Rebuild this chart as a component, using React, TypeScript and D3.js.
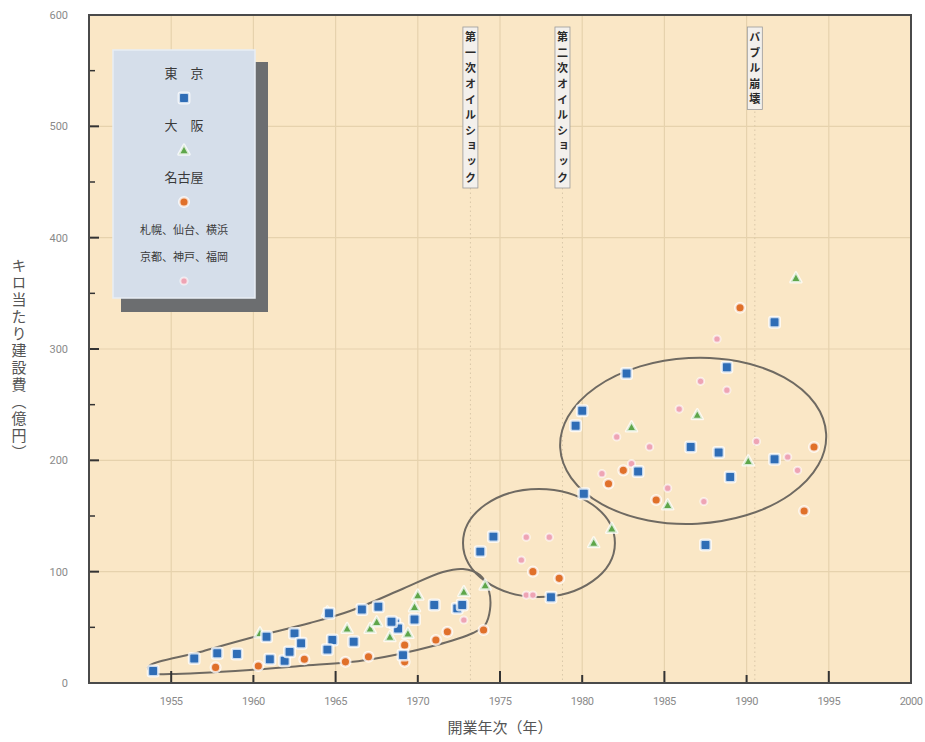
import React from "react";
import * as d3 from "d3";

// ---- data (year, 億円/km) ----
const tokyo: [number, number][] = [
  [1953.9, 10.8], [1956.4, 22], [1957.8, 26.7], [1959.0, 26], [1960.8, 41.6], [1961.0, 21.3],
  [1961.9, 20], [1962.2, 28], [1962.5, 44.6], [1962.9, 35.7], [1964.6, 62.6], [1964.8, 38.6],
  [1964.5, 30], [1966.1, 37], [1966.6, 66], [1967.6, 68.5], [1968.6, 53.6], [1968.8, 49],
  [1968.4, 55], [1969.8, 57], [1969.1, 25], [1971.0, 70], [1972.4, 67], [1972.7, 70],
  [1973.8, 118], [1974.6, 131.5], [1978.1, 77], [1980.1, 170], [1979.6, 231], [1980.0, 244.6],
  [1982.7, 278], [1983.4, 190], [1986.6, 212], [1988.3, 207], [1988.8, 283.6], [1989.0, 185],
  [1987.5, 124], [1991.7, 201], [1991.7, 324],
];
const osaka: [number, number][] = [
  [1960.4, 45], [1964.5, 64], [1965.7, 49], [1967.1, 49], [1967.5, 55], [1968.3, 41.6],
  [1969.4, 44.6], [1969.8, 68.5], [1970.0, 79], [1972.8, 82], [1974.1, 88], [1980.7, 126],
  [1981.8, 139], [1983.0, 230], [1985.2, 160], [1987.0, 241], [1990.1, 199.5], [1993.0, 364],
];
const nagoya: [number, number][] = [
  [1957.7, 14], [1960.3, 15.3], [1963.1, 21.3], [1965.6, 19], [1967.0, 23.6], [1969.2, 34],
  [1969.2, 19], [1971.1, 38.6], [1971.8, 46], [1974.0, 47.6], [1977.0, 100], [1978.6, 94],
  [1981.6, 179], [1982.5, 191], [1984.5, 164.4], [1989.6, 337], [1993.5, 154.5], [1994.1, 212],
];
const others: [number, number][] = [
  [1972.8, 56.6], [1976.3, 110.5], [1976.6, 131], [1978.0, 131], [1976.6, 79], [1977.0, 79],
  [1981.2, 188], [1982.1, 221], [1983.0, 197], [1984.1, 212], [1985.2, 175], [1985.9, 246],
  [1987.2, 271], [1987.4, 163], [1988.2, 309], [1988.8, 263], [1990.6, 217], [1992.5, 203],
  [1993.1, 191],
];

const xTicks = [1955, 1960, 1965, 1970, 1975, 1980, 1985, 1990, 1995, 2000];
const yTicks = [0, 100, 200, 300, 400, 500, 600];
const yMinor = [50, 150, 250, 350, 450, 550];

const events = [
  { year: 1973.2, label: "第一次オイルショック" },
  { year: 1978.8, label: "第二次オイルショック" },
  { year: 1990.5, label: "バブル崩壊" },
];

const legendItems = [
  { lines: ["東　京"], kind: "tokyo" },
  { lines: ["大　阪"], kind: "osaka" },
  { lines: ["名古屋"], kind: "nagoya" },
  { lines: ["札幌、仙台、横浜", "京都、神戸、福岡"], kind: "others" },
];

// grouping outlines (year, value)
const earlyOutline: [number, number][] = [
  [1953.59, 14.4], [1956.75, 27.8], [1959.79, 40.4], [1963.44, 53.9], [1965.88, 64.7],
  [1968.92, 83.5], [1971.53, 99.7], [1972.75, 102.4], [1973.78, 97.0], [1974.33, 82.6],
  [1974.39, 65.6], [1974.09, 52.1], [1973.36, 44.9], [1970.92, 33.2], [1966.91, 20.7],
  [1962.83, 15.3], [1959.79, 11.7], [1954.93, 8.1], [1953.83, 9.0],
];
const midEllipse = { cx: 1977.37, cy: 125.8, rx: 4.62, ry: 48.5 };
const lateEllipse = { cx: 1986.75, cy: 217.5, rx: 8.1, ry: 74.5, rot: -3 };

const COLORS = {
  tokyo: "#2f6db6",
  osaka: "#5ea64a",
  nagoya: "#e0702a",
  others: "#eea4b4",
};

const W = 925;
const H = 742;

function Marker({ kind, x, y }: { kind: string; x: number; y: number }) {
  const halo = { stroke: "#ffffff", strokeOpacity: 0.75, strokeWidth: 2.5 } as any;
  if (kind === "tokyo") {
    return <rect x={x - 5.2} y={y - 5.2} width={10.4} height={10.4} rx={2} fill={COLORS.tokyo} {...halo} />;
  }
  if (kind === "osaka") {
    const s = 5.5;
    return (
      <path
        d={`M${x},${y - s} L${x + s},${y + s * 0.8} L${x - s},${y + s * 0.8} Z`}
        fill={COLORS.osaka}
        {...halo}
        strokeLinejoin="round"
      />
    );
  }
  if (kind === "nagoya") {
    return <circle cx={x} cy={y} r={4.8} fill={COLORS.nagoya} {...halo} />;
  }
  return <circle cx={x} cy={y} r={3.6} fill={COLORS.others} stroke="#ffffff" strokeOpacity={0.6} strokeWidth={2} />;
}

export default function App() {
  const x = d3.scaleLinear().domain([1950, 2000]).range([89, 911]);
  const y = d3.scaleLinear().domain([0, 600]).range([683, 15]);
  const left = x(1950);
  const right = x(2000);
  const top = y(600);
  const bottom = y(0);

  const outlinePath =
    d3
      .line<[number, number]>()
      .x((d) => x(d[0]))
      .y((d) => y(d[1]))
      .curve(d3.curveCatmullRomClosed.alpha(0.5))(earlyOutline) || "";

  const ell = (e: any) => ({
    cx: x(e.cx),
    cy: y(e.cy),
    rx: x(e.cx + e.rx) - x(e.cx),
    ry: y(e.cy) - y(e.cy + e.ry),
  });
  const mid = ell(midEllipse);
  const late = ell(lateEllipse);

  const series: { kind: string; data: [number, number][] }[] = [
    { kind: "others", data: others },
    { kind: "nagoya", data: nagoya },
    { kind: "osaka", data: osaka },
    { kind: "tokyo", data: tokyo },
  ];

  const fontJP = "'Noto Sans CJK JP', 'Noto Sans', sans-serif";
  const fontNum = "'Liberation Sans Narrow', 'Roboto', 'DejaVu Sans', sans-serif";

  // legend layout
  const lgX = 113, lgY = 50, lgW = 142, lgH = 248;
  let cursor = lgY + 28;
  const legendRows = legendItems.map((it) => {
    const textYs = it.lines.map((_, i) => cursor + i * 27);
    const markerY = textYs[textYs.length - 1] + 20;
    cursor = markerY + 32;
    return { ...it, textYs, markerY };
  });

  return (
    <svg width={W} height={H} style={{ position: "absolute", left: 0, top: 0, background: "#fff" }}>
      {/* plot background */}
      <rect x={left} y={top} width={right - left} height={bottom - top} fill="#fae7c6" />

      {/* gridlines */}
      {xTicks.slice(0, -1).map((t) => (
        <line key={"gx" + t} x1={x(t)} x2={x(t)} y1={top} y2={bottom} stroke="#e6d2ad" strokeWidth={1.2} />
      ))}
      {yTicks.slice(1, -1).map((t) => (
        <line key={"gy" + t} x1={left} x2={right} y1={y(t)} y2={y(t)} stroke="#e6d2ad" strokeWidth={1.2} />
      ))}

      {/* event dotted lines */}
      {events.map((e) => (
        <line
          key={"el" + e.label}
          x1={x(e.year)}
          x2={x(e.year)}
          y1={top + 20}
          y2={bottom}
          stroke="#d9c7a8"
          strokeWidth={1}
          strokeDasharray="1.5 3"
        />
      ))}

      {/* event labels */}
      {events.map((e) => {
        const n = Array.from(e.label).length;
        const h = n * 15.7 + 4;
        const cx = x(e.year);
        return (
          <g key={"ev" + e.label}>
            <rect x={cx - 7.5} y={top + 12} width={15} height={h} fill="#f3f0ec" stroke="#9a9a9a" strokeWidth={0.8} />
            <text
              x={cx}
              y={top + 14 + h / 2}
              textAnchor="middle"
              fontFamily={fontJP}
              fontWeight={700}
              fontSize={11}
              fill="#2a2a2a"
              style={{ writingMode: "vertical-rl" as any, letterSpacing: "4.6px" }}
            >
              {e.label}
            </text>
          </g>
        );
      })}

      {/* outlines */}
      <path d={outlinePath} fill="none" stroke="#6f6a62" strokeWidth={2} />
      <ellipse cx={mid.cx} cy={mid.cy} rx={mid.rx} ry={mid.ry} fill="none" stroke="#6f6a62" strokeWidth={2} />
      <ellipse
        cx={late.cx}
        cy={late.cy}
        rx={late.rx}
        ry={late.ry}
        fill="none"
        stroke="#6f6a62"
        strokeWidth={2}
        transform={`rotate(${lateEllipse.rot} ${late.cx} ${late.cy})`}
      />

      {/* points */}
      {series.map((s) => (
        <g key={s.kind}>
          {s.data.map((d, i) => (
            <Marker key={i} kind={s.kind} x={x(d[0])} y={y(d[1])} />
          ))}
        </g>
      ))}

      {/* axis ticks (inward) */}
      {xTicks.slice(0, -1).map((t, i) => (
        <line key={"tx" + t} x1={x(t)} x2={x(t)} y1={bottom} y2={bottom - (i % 2 === 0 ? 12 : 8)} stroke="#333" strokeWidth={2} />
      ))}
      {yTicks.slice(1, -1).map((t) => (
        <line key={"ty" + t} x1={left} x2={left + 10} y1={y(t)} y2={y(t)} stroke="#333" strokeWidth={2} />
      ))}
      {yMinor.map((t) => (
        <line key={"tm" + t} x1={left} x2={left + 6} y1={y(t)} y2={y(t)} stroke="#333" strokeWidth={1.5} />
      ))}

      {/* frame */}
      <rect x={left} y={top} width={right - left} height={bottom - top} fill="none" stroke="#4a4a4a" strokeWidth={2} />

      {/* tick labels */}
      {xTicks.map((t) => (
        <text
          key={"lx" + t}
          x={x(t)}
          y={bottom + 22}
          textAnchor="middle"
          fontFamily={fontNum}
          fontSize={11}
          fill="#8a8a8a"
          style={{ letterSpacing: "-0.5px" }}
        >
          {t}
        </text>
      ))}
      {yTicks.map((t) => (
        <text
          key={"ly" + t}
          x={left - 21}
          y={y(t) + 4}
          textAnchor="end"
          fontFamily={fontNum}
          fontSize={11}
          fill="#8a8a8a"
        >
          {t}
        </text>
      ))}

      {/* axis titles */}
      <text
        x={(left + right) / 2}
        y={733}
        textAnchor="middle"
        fontFamily={fontJP}
        fontSize={15}
        fill="#555"
      >
        開業年次（年）
      </text>
      <text
        x={19}
        y={360}
        textAnchor="middle"
        fontFamily={fontJP}
        fontSize={15}
        fill="#555"
        style={{ writingMode: "vertical-rl" as any, letterSpacing: "2px" }}
      >
        キロ当たり建設費（億円）
      </text>

      {/* legend */}
      <rect x={lgX + 8} y={lgY + 12} width={lgW + 5} height={lgH + 2} fill="#6c6e70" />
      <rect x={lgX} y={lgY} width={lgW} height={lgH} fill="#d5deea" stroke="#e8eef5" strokeWidth={1.5} />
      {legendRows.map((r) => (
        <g key={r.kind}>
          {r.lines.map((ln, i) => (
            <text
              key={i}
              x={lgX + lgW / 2}
              y={r.textYs[i]}
              textAnchor="middle"
              fontFamily={fontJP}
              fontSize={r.lines.length > 1 ? 11 : 13}
              fill="#3a3a3a"
            >
              {ln}
            </text>
          ))}
          <Marker kind={r.kind} x={lgX + lgW / 2} y={r.markerY} />
        </g>
      ))}
    </svg>
  );
}
